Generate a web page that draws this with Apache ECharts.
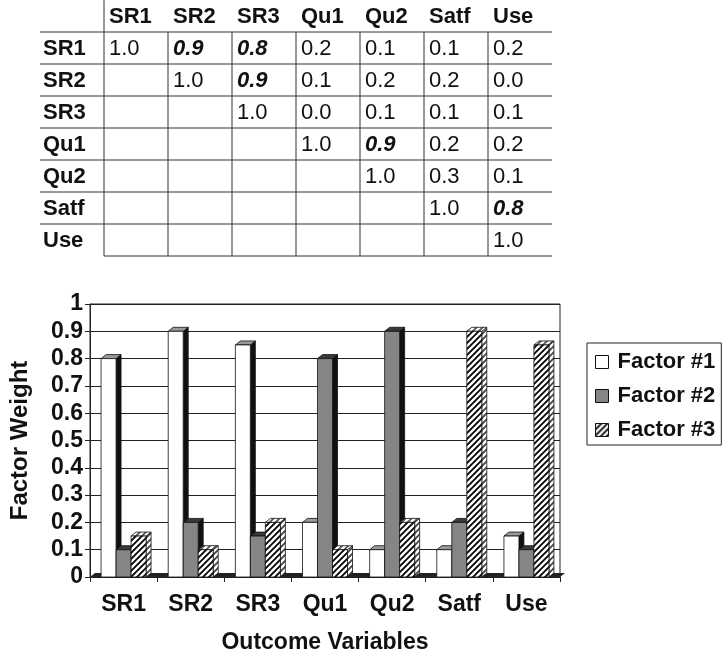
<!DOCTYPE html>
<html lang="en">
<head>
<meta charset="UTF-8">
<title>Factor weights</title>
<script src="https://cdn.jsdelivr.net/npm/echarts@6/dist/echarts.min.js"></script>
<style>
  html, body { margin: 0; padding: 0; background: #fff; }
  #chart { width: 727px; height: 655px; }
</style>
</head>
<body>
<div id="chart"></div>
<script>
// correlation table
const variables = ['SR1', 'SR2', 'SR3', 'Qu1', 'Qu2', 'Satf', 'Use'];
const correlations = [
  [1.0, 0.9, 0.8, 0.2, 0.1, 0.1, 0.2],
  [null, 1.0, 0.9, 0.1, 0.2, 0.2, 0.0],
  [null, null, 1.0, 0.0, 0.1, 0.1, 0.1],
  [null, null, null, 1.0, 0.9, 0.2, 0.2],
  [null, null, null, null, 1.0, 0.3, 0.1],
  [null, null, null, null, null, 1.0, 0.8],
  [null, null, null, null, null, null, 1.0]
];
const strongPairs = [[0, 1], [0, 2], [1, 2], [3, 4], [5, 6]];

// factor loadings
const factorNames = ['Factor #1', 'Factor #2', 'Factor #3'];
const factor1 = [0.8, 0.9, 0.85, 0.2, 0.1, 0.1, 0.15];
const factor2 = [0.1, 0.2, 0.15, 0.8, 0.9, 0.2, 0.1];
const factor3 = [0.15, 0.1, 0.2, 0.1, 0.2, 0.9, 0.85];

const FONT = '"Liberation Sans", Arial, sans-serif';
const INK = '#111';
const BAR_W = 15, DX = 5, DY = 4;

function hatch(lineColor) {
    const c = document.createElement('canvas');
    c.width = 6; c.height = 6;
    const g = c.getContext('2d');
    g.fillStyle = '#fff';
    g.fillRect(0, 0, 6, 6);
    g.strokeStyle = lineColor;
    g.lineWidth = 1.8;
    g.beginPath();
    g.moveTo(-1, 7); g.lineTo(7, -1);
    g.moveTo(-1, 1); g.lineTo(1, -1);
    g.moveTo(5, 7); g.lineTo(7, 5);
    g.stroke();
    return { type: 'pattern', image: c, repeat: 'repeat' };
}

// 3d-looking bar, position worked out from the category band
function bar3d(slot, front, top, side) {
    return function (params, api) {
        const base = api.coord([api.value(0), 0]);
        const head = api.coord([api.value(0), api.value(1)]);
        const x = base[0] - BAR_W * 1.5 + slot * BAR_W;
        const y0 = head[1], y1 = base[1];
        const edge = { stroke: INK, lineWidth: 0.8 };
        return {
            type: 'group',
            children: [
                { type: 'polygon', shape: { points: [[x + BAR_W, y0], [x + BAR_W + DX, y0 - DY], [x + BAR_W + DX, y1 - DY], [x + BAR_W, y1]] },
                  style: Object.assign({ fill: side }, edge) },
                { type: 'polygon', shape: { points: [[x, y0], [x + DX, y0 - DY], [x + BAR_W + DX, y0 - DY], [x + BAR_W, y0]] },
                  style: Object.assign({ fill: top }, edge) },
                { type: 'rect', shape: { x: x, y: y0, width: BAR_W, height: y1 - y0 },
                  style: Object.assign({ fill: front }, edge) }
            ]
        };
    };
}

function floor(params, api) {
    const r = params.coordSys;
    const yb = r.y + r.height;
    return {
        type: 'polygon',
        shape: { points: [[r.x, yb], [r.x + DX, yb - DY], [r.x + r.width + DX, yb - DY], [r.x + r.width, yb]] },
        style: { fill: '#222' }
    };
}

// table cells
const cells = [];
variables.forEach((v, i) => {
    cells.push({ c: i + 1, r: 0, text: v, weight: 'bold', style: 'normal' });
    cells.push({ c: 0, r: i + 1, text: v, weight: 'bold', style: 'normal' });
});
correlations.forEach((row, i) => row.forEach((v, j) => {
    const strong = strongPairs.some(p => p[0] === i && p[1] === j);
    cells.push({
        c: j + 1, r: i + 1,
        text: v === null ? '' : v.toFixed(1),
        weight: strong ? 'bold' : 'normal',
        style: strong ? 'italic' : 'normal'
    });
}));
const lastRow = variables.length;

function tableCell(params, api) {
    const cell = cells[params.dataIndex];
    const mid = api.coord([cell.c, cell.r]);
    const size = api.size([1, 1]);
    const w = Math.abs(size[0]), h = Math.abs(size[1]);
    const x0 = mid[0] - w / 2, y0 = mid[1] - h / 2;
    const x1 = x0 + w, y1 = y0 + h;
    const line = (a, b, c, d) => ({ type: 'line', shape: { x1: a, y1: b, x2: c, y2: d }, style: { stroke: '#333', lineWidth: 1 } });
    const children = [];
    if (cell.r > 0) children.push(line(x0, y0, x1, y0));
    if (cell.c > 0 && cell.r > 0) children.push(line(x0, y0, x0, y1));
    if (cell.c === 1 && cell.r === 0) children.push(line(x0, y0, x0, y1));
    if (cell.r === lastRow && cell.c > 0) children.push(line(x0, y1, x1, y1));
    children.push({
        type: 'text',
        style: {
            text: cell.text, x: x0 + (cell.c === 0 ? 3 : 5), y: mid[1] + 1,
            verticalAlign: 'middle', fill: INK,
            fontSize: 22, fontFamily: FONT, fontWeight: cell.weight, fontStyle: cell.style
        }
    });
    return { type: 'group', children: children };
}

const chart = echarts.init(document.getElementById('chart'));

const option = {
    animation: false,
    backgroundColor: '#fff',
    grid: [
        { left: 89, top: 304, width: 471, height: 273, show: true, borderColor: '#222', borderWidth: 1 },
        { left: 40, top: 0, width: 512, height: 256 }
    ],
    legend: {
        orient: 'vertical',
        left: 587, top: 343,
        data: factorNames,
        icon: 'rect',
        itemWidth: 13, itemHeight: 13, itemGap: 12,
        padding: [8, 6, 4, 8],
        borderColor: '#222', borderWidth: 1,
        itemStyle: { borderColor: INK, borderWidth: 1 },
        textStyle: { fontFamily: FONT, fontSize: 22, fontWeight: 'bold', color: INK, padding: [0, 0, 0, 4] }
    },
    xAxis: [{
        type: 'category',
        data: variables,
        gridIndex: 0,
        name: 'Outcome Variables',
        nameLocation: 'middle',
        nameGap: 54,
        nameTextStyle: { fontFamily: FONT, fontSize: 23, fontWeight: 'bold', color: INK },
        axisLine: { lineStyle: { color: '#222' } },
        axisTick: { show: true, length: 5, lineStyle: { color: '#222' } },
        axisLabel: { fontFamily: FONT, fontSize: 23, fontWeight: 'bold', color: INK, margin: 16 },
        splitLine: { show: false }
    }, {
        type: 'category',
        data: [''].concat(variables),
        gridIndex: 1,
        show: false
    }],
    yAxis: [{
        type: 'value',
        gridIndex: 0,
        min: 0, max: 1, interval: 0.1,
        name: 'Factor Weight',
        nameLocation: 'middle',
        nameGap: 58,
        nameTextStyle: { fontFamily: FONT, fontSize: 24, fontWeight: 'bold', color: INK },
        axisLine: { show: true, lineStyle: { color: '#222' } },
        axisTick: { show: true, length: 5, lineStyle: { color: '#222' } },
        axisLabel: {
            fontFamily: FONT, fontSize: 23, fontWeight: 'bold', color: INK, margin: 7,
            formatter: v => String(Math.round(v * 10) / 10)
        },
        splitLine: { show: true, lineStyle: { color: '#222', width: 1 } }
    }, {
        type: 'category',
        data: [''].concat(variables),
        gridIndex: 1,
        inverse: true,
        show: false
    }],
    series: [
        {
            type: 'custom', name: 'floor', silent: true,
            xAxisIndex: 0, yAxisIndex: 0,
            data: [[0, 0]],
            renderItem: floor
        },
        {
            type: 'custom', name: factorNames[0],
            xAxisIndex: 0, yAxisIndex: 0,
            itemStyle: { color: '#fff', borderColor: INK, borderWidth: 1 },
            data: factor1.map((v, i) => [i, v]),
            encode: { x: 0, y: 1 },
            renderItem: bar3d(0, '#fff', '#9a9a9a', '#111')
        },
        {
            type: 'custom', name: factorNames[1],
            xAxisIndex: 0, yAxisIndex: 0,
            itemStyle: { color: '#858585', borderColor: INK, borderWidth: 1 },
            data: factor2.map((v, i) => [i, v]),
            encode: { x: 0, y: 1 },
            renderItem: bar3d(1, '#858585', '#3a3a3a', '#111')
        },
        {
            type: 'custom', name: factorNames[2],
            xAxisIndex: 0, yAxisIndex: 0,
            itemStyle: { color: hatch('#000'), borderColor: INK, borderWidth: 1 },
            data: factor3.map((v, i) => [i, v]),
            encode: { x: 0, y: 1 },
            renderItem: bar3d(2, hatch('#000'), hatch('#555'), hatch('#444'))
        },
        {
            type: 'custom', name: 'table', silent: true,
            xAxisIndex: 1, yAxisIndex: 1,
            data: cells.map(d => [d.c, d.r]),
            renderItem: tableCell
        }
    ]
};

chart.setOption(option);
</script>
</body>
</html>
